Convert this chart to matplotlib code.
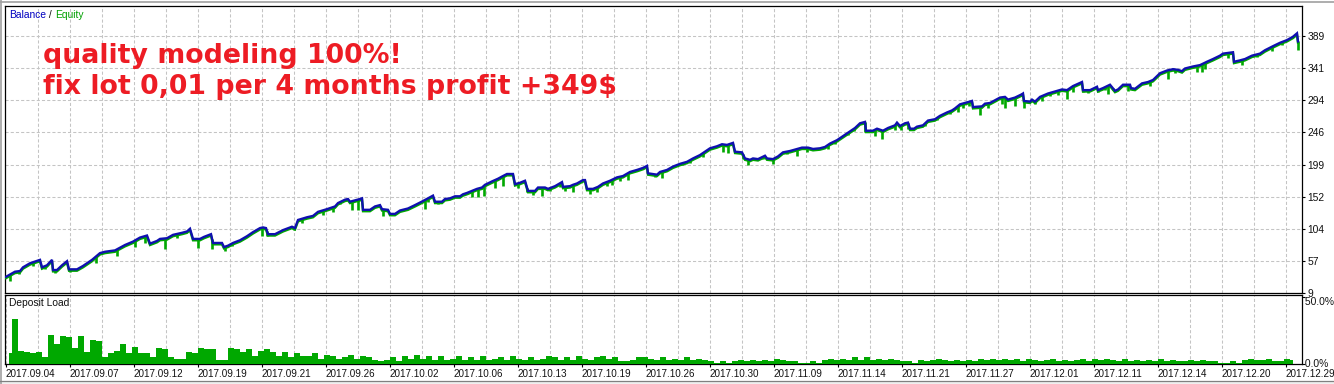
import numpy as np
import matplotlib
matplotlib.use("Agg")
import matplotlib.pyplot as plt
import matplotlib.transforms as mtransforms
from matplotlib.lines import Line2D
from matplotlib.patches import Rectangle

# ---------------- data ----------------
balance_trade = [0, 6, 9, 14, 17, 24, 34, 36, 41, 46, 47, 51, 56, 61, 63, 71, 77, 86, 94, 99,
                 109, 114, 119, 127, 134, 141, 144, 151, 154, 161, 167, 176, 181, 184, 187, 194, 198, 205, 207, 216,
                 218, 222, 227, 234, 241, 247, 254, 257, 260, 262, 269, 277, 286, 289, 292, 301, 307, 312, 321, 329,
                 332, 339, 342, 344, 349, 354, 356, 357, 364, 369, 374, 376, 382, 384, 389, 394, 402, 409, 417, 422,
                 427, 429, 436, 439, 444, 449, 454, 457, 461, 466, 471, 476, 479, 486, 492, 497, 501, 507, 509, 514,
                 519, 522, 529, 532, 539, 542, 549, 556, 557, 564, 567, 571, 577, 579, 581, 587, 592, 597, 604, 611,
                 617, 624, 631, 637, 641, 642, 651, 654, 661, 667, 674, 681, 687, 694, 699, 704, 711, 716, 721, 727,
                 729, 736, 739, 744, 747, 752, 759, 761, 767, 772, 777, 784, 791, 796, 802, 807, 814, 819, 824, 831,
                 837, 844, 849, 854, 859, 860, 867, 871, 877, 882, 889, 891, 894, 899, 902, 904, 908, 911, 917, 922,
                 929, 934, 941, 946, 949, 954, 961, 966, 967, 976, 979, 984, 989, 994, 999, 1002, 1009, 1016, 1017, 1018,
                 1024, 1026, 1029, 1034, 1042, 1049, 1056, 1061, 1067, 1076, 1077, 1084, 1091, 1092, 1097, 1104, 1109, 1112, 1117, 1124,
                 1125, 1129, 1136, 1142, 1147, 1154, 1161, 1167, 1172, 1176, 1179, 1187, 1194, 1201, 1207, 1214, 1217, 1227, 1228, 1234,
                 1239, 1246, 1254, 1259, 1267, 1274, 1281, 1287, 1291, 1292]
balance = [33, 38, 40.5, 41.5, 47, 53, 58, 47, 50, 58, 43, 43, 50, 56, 44, 44, 49, 58, 68, 70,
           72, 76, 80, 85, 91, 94, 82, 86, 89, 90, 95, 98, 100, 104, 89, 89, 92, 96, 83, 83,
           77, 79, 83, 87, 93, 99, 105, 106, 105, 96, 96, 102, 107, 105, 117, 121, 123, 129, 133, 137,
           142, 147, 148, 144, 146, 148, 149, 132, 132, 137, 139, 133, 132, 126, 126, 131, 134, 139, 145, 149,
           153, 144, 144, 148, 149, 152, 152, 155, 157, 160, 163, 165, 169, 174, 178, 182, 185, 185, 170, 172,
           175, 160, 160, 165, 165, 163, 167, 173, 166, 167, 169, 171, 176, 176, 163, 163, 166, 171, 175, 180,
           182, 188, 191, 194, 197, 186, 184, 188, 191, 196, 200, 203, 208, 213, 218, 223, 226, 229, 228, 231,
           218, 217, 208, 206, 208, 207, 212, 208, 207, 211, 217, 219, 222, 224, 224, 222, 223, 225, 230, 235,
           241, 248, 253, 260, 262, 249, 249, 252, 249, 253, 257, 261, 256, 260, 261, 252, 252, 255, 257, 264,
           266, 271, 276, 279, 282, 288, 291, 293, 284, 285, 289, 290, 294, 298, 299, 295, 298, 303, 304, 293,
           292, 295, 292, 299, 304, 307, 310, 309, 315, 321, 309, 309, 314, 309, 312, 317, 308, 310, 317, 317,
           312, 311, 319, 321, 324, 334, 338, 340, 339, 337, 341, 344, 346, 351, 355, 360, 363, 365, 351, 353,
           355, 360, 363, 368, 374, 379, 383, 388, 393, 381]

# equity drawdowns (open-trade dips below balance), in $
dip_trade = [4, 13, 27, 39, 49, 64, 90, 111, 129, 139, 159, 171, 192, 206, 219, 226, 256, 261, 288, 296,
             317, 327, 334, 346, 352, 377, 419, 422, 432, 466, 472, 478, 489, 497, 512, 521, 527, 536, 544, 554,
             559, 567, 584, 591, 601, 606, 614, 622, 649, 656, 676, 684, 697, 717, 722, 737, 742, 757, 767, 781,
             791, 801, 822, 829, 842, 848, 859, 869, 876, 889, 895, 902, 919, 931, 944, 952, 957, 963, 974, 982,
             996, 999, 1009, 1018, 1029, 1036, 1044, 1052, 1061, 1067, 1077, 1082, 1092, 1099, 1102, 1107, 1122, 1127, 1144, 1162,
             1169, 1191, 1196, 1199, 1222, 1236, 1251, 1266, 1276, 1292]
dip_depth = [9, 4, 6, 4, 4, 4, 10, 10, 9, 10, 16, 6, 13, 15, 6, 4, 12, 7, 3, 7,
             7, 7, 3, 13, 16, 10, 13, 6, 3, 9, 12, 15, 12, 15, 7, 6, 6, 12, 4, 6,
             6, 10, 7, 7, 6, 7, 6, 10, 4, 10, 3, 4, 6, 12, 12, 7, 9, 3, 7, 4,
             10, 7, 6, 4, 4, 4, 15, 10, 13, 7, 7, 9, 4, 3, 4, 9, 6, 6, 13, 7,
             10, 16, 12, 10, 3, 7, 4, 6, 13, 9, 3, 4, 3, 4, 12, 3, 9, 3, 7, 13,
             6, 10, 12, 10, 7, 7, 4, 7, 4, 13]

# deposit load (%), one value every 6 trades
deposit_load = [8, 34, 10, 9, 8, 9, 5, 22, 15, 21, 20, 12, 21, 9, 18, 17, 5, 8, 10, 15,
                8, 13, 8, 8, 5, 12, 11, 5, 4, 4, 9, 8, 12, 11, 11, 3, 3, 12, 11, 9,
                11, 6, 10, 11, 9, 6, 9, 5, 8, 6, 6, 8, 4, 7, 6, 4, 5, 7, 4, 6,
                5, 3, 2, 3, 5, 2, 6, 4, 7, 4, 6, 3, 6, 3, 4, 6, 3, 5, 3, 6,
                3, 4, 5, 3, 6, 4, 3, 5, 3, 4, 6, 5, 3, 5, 3, 6, 4, 3, 5, 6,
                4, 5, 2, 2, 3, 5, 5, 4, 3, 5, 3, 4, 3, 5, 3, 4, 3, 2, 1, 2,
                1, 2, 3, 2, 3, 2, 3, 2, 4, 3, 2, 2, 1, 1, 2, 1, 3, 4, 3, 4,
                3, 5, 3, 5, 3, 4, 3, 4, 3, 2, 2, 1, 3, 2, 3, 4, 3, 2, 3, 2,
                3, 2, 4, 3, 4, 3, 4, 3, 4, 2, 4, 3, 2, 3, 4, 2, 3, 2, 3, 4,
                2, 4, 3, 4, 3, 2, 4, 2, 3, 2, 3, 2, 4, 2, 3, 2, 2, 3, 2, 3,
                2, 2, 1, 1, 2, 1, 3, 4, 3, 3, 4, 2, 2, 4, 3]
deposit_step = 6

date_labels = ["2017.09.04", "2017.09.07", "2017.09.12", "2017.09.19", "2017.09.21", "2017.09.26",
               "2017.10.02", "2017.10.06", "2017.10.13", "2017.10.19", "2017.10.26", "2017.10.30",
               "2017.11.09", "2017.11.14", "2017.11.21", "2017.11.27", "2017.12.01", "2017.12.11",
               "2017.12.14", "2017.12.20", "2017.12.29"]
date_step = 64
price_ticks = [9, 56.5, 104, 151.5, 199, 246.5, 294, 341.5, 389]
price_labels = ["9", "57", "104", "152", "199", "246", "294", "341", "389"]

title_line1 = "quality modeling 100%!"
title_line2 = "fix lot 0,01 per 4 months profit +349$"

# ---------------- style ----------------
W, H, DPI = 1334, 384, 100
BLUE = "#1010b0"
GREEN = "#00a800"
GRID = "#c4c4c4"
RED = "#ed1c24"
TXT = "#111111"
FONT = "Liberation Sans"
FS = 7.4
FS_DATE = 7.1

plt.rcParams["font.family"] = [FONT, "DejaVu Sans"]

fig = plt.figure(figsize=(W / DPI, H / DPI), dpi=DPI)
fig.patch.set_facecolor("white")


def fbox(x0, y0, x1, y1):
    return [x0 / W, 1 - y1 / H, (x1 - x0) / W, (y1 - y0) / H]


ax = fig.add_axes(fbox(5, 6, 1302, 293))
ax2 = fig.add_axes(fbox(5, 295, 1302, 364))

XMIN, XMAX = -1, 1296
for a in (ax, ax2):
    a.set_xlim(XMIN, XMAX)
    for s in a.spines.values():
        s.set_linewidth(0.9)
        s.set_color("black")
    a.set_facecolor("white")

# --- top panel ---
ax.set_ylim(9, 433.4)
grid_x = np.arange(32, XMAX, 32)
ax.set_xticks(grid_x)
ax.tick_params(axis="x", length=0, labelbottom=False)
ax.yaxis.tick_right()
ax.set_yticks(price_ticks)
ax.set_yticklabels(price_labels, fontsize=FS, color=TXT)
ax.tick_params(axis="y", length=2.2, width=0.8, pad=1.5, direction="out")
ax.grid(True, color=GRID, linestyle=(0, (3, 2)), linewidth=0.75)
ax.set_axisbelow(True)

bt = np.array(balance_trade)
bv = np.array(balance)
off = mtransforms.offset_copy(ax.transData, fig=fig, x=0, y=-1.4, units="dots")
ax.plot(bt, bv, color=GREEN, lw=1.7, transform=off, zorder=3, solid_joinstyle="miter")
dips_top = np.interp(dip_trade, bt, bv)
ax.vlines(dip_trade, dips_top - np.array(dip_depth), dips_top, color=GREEN, lw=1.9, zorder=3)
ax.plot(bt, bv, color=BLUE, lw=1.7, zorder=4, solid_joinstyle="miter")

# legend label
t1 = ax.text(9 / W, 1 - 15 / H, "Balance", transform=fig.transFigure, fontsize=FS,
             color="#0000c0", va="center", ha="left")
t2 = ax.annotate(" / ", xy=(1, 0.5), xycoords=t1, va="center", ha="left", fontsize=FS, color=TXT)
t3 = ax.annotate("Equity", xy=(1, 0.5), xycoords=t2, va="center", ha="left", fontsize=FS, color="#00a000")

fig.text(43 / W, 1 - 63 / H, title_line1, fontsize=19.3, fontweight="bold", color=RED,
         family="DejaVu Sans", va="baseline", ha="left")
fig.text(43 / W, 1 - 94 / H, title_line2, fontsize=19.3, fontweight="bold", color=RED,
         family="DejaVu Sans", va="baseline", ha="left")

# --- bottom panel ---
ax2.set_ylim(0, 51.6)
dl_x = np.arange(len(deposit_load)) * deposit_step + deposit_step / 2
ax2.fill_between(dl_x, 0, deposit_load, step="mid", color=GREEN, linewidth=0, zorder=3)
date_x = np.arange(len(date_labels)) * date_step
ax2.set_xticks(date_x)
ax2.set_xticks(grid_x, minor=True)
ax2.set_xticklabels(date_labels, fontsize=FS_DATE, color=TXT, ha="left")
ax2.tick_params(axis="x", which="major", length=2.5, width=0.8, pad=1.2)
ax2.tick_params(axis="x", which="minor", length=0)
ax2.grid(True, axis="x", which="both", color=GRID, linestyle=(0, (3, 2)), linewidth=0.75)
ax2.set_axisbelow(True)
ax2.yaxis.tick_right()
ax2.set_yticks([0, 50])
ax2.set_yticklabels([])
ax2.tick_params(axis="y", length=2.2, width=0.8)
bl = mtransforms.blended_transform_factory(ax2.transAxes, ax2.transData)
ax2.text(1.0, 50, " 50.0%", transform=bl, fontsize=FS, color=TXT, va="top", ha="left")
ax2.text(1.0, 0, " 0.0%", transform=bl, fontsize=FS, color=TXT, va="center", ha="left")
ax2.text(9 / W, 1 - 303 / H, "Deposit Load", transform=fig.transFigure, fontsize=FS,
         color=TXT, va="center", ha="left")

# window frame decorations
fig.add_artist(Line2D([0, 1], [1 - 1.5 / H, 1 - 1.5 / H], color="#a0a0a0", lw=1.2,
                      transform=fig.transFigure))
fig.add_artist(Line2D([0.5 / W, 0.5 / W], [0, 1], color="#a0a0a0", lw=1.2, transform=fig.transFigure))
fig.add_artist(Rectangle((0, 0), 1, 3 / H, transform=fig.transFigure, color="#efefef", lw=0))
fig.add_artist(Line2D([0, 1], [3 / H, 3 / H], color="#808080", lw=0.9, transform=fig.transFigure))

fig.savefig("out.png", dpi=DPI, facecolor="white")
